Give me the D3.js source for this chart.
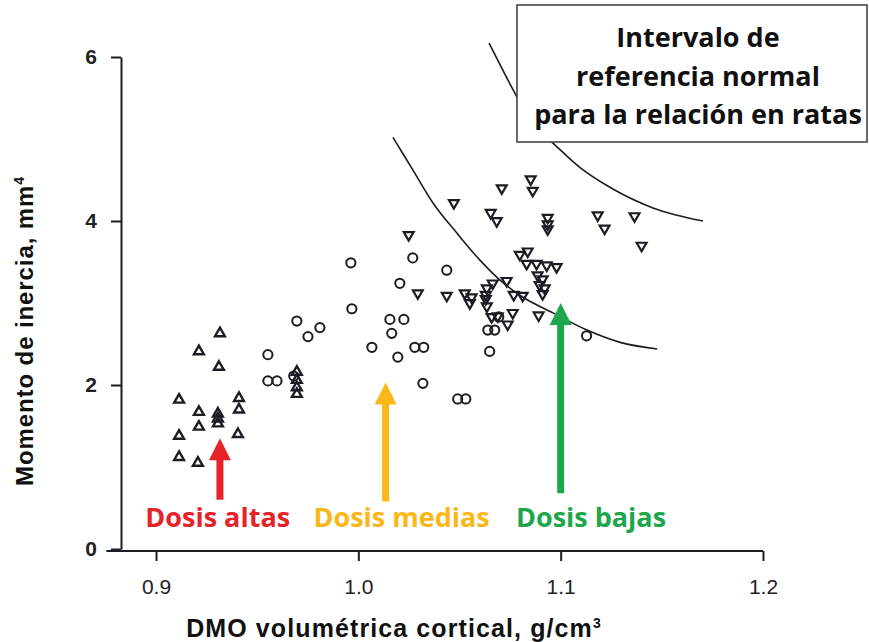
<!DOCTYPE html>
<html><head><meta charset="utf-8">
<script src="https://cdn.jsdelivr.net/npm/d3@7"></script>
<style>html,body{margin:0;padding:0;background:#fff;}svg{display:block;}</style>
</head><body>
<script>
// ---- data ----
const xTicks = [0.9, 1.0, 1.1, 1.2];
const xTickLabels = ["0.9", "1.0", "1.1", "1.2"];
const yTicks = [0, 2, 4, 6];
const yTickLabels = ["0", "2", "4", "6"];

// Dosis altas (triangles up)
const altas = [
  [0.9316,2.63],[0.9212,2.41],[0.9311,2.22],[0.9114,1.82],[0.9410,1.84],
  [0.9212,1.67],[0.9410,1.70],[0.9306,1.65],[0.9306,1.59],[0.9306,1.53],
  [0.9212,1.49],[0.9114,1.38],[0.9405,1.40],[0.9114,1.12],[0.9207,1.05],
  [0.9696,2.16],[0.9696,2.06],[0.9696,1.97],[0.9696,1.89]
];
// Dosis medias (circles)
const medias = [
  [0.9963,3.49],[1.0269,3.55],[1.0437,3.40],[1.0205,3.24],[0.9968,2.93],
  [0.9696,2.78],[0.9810,2.70],[0.9751,2.59],[1.0156,2.80],[1.0225,2.80],
  [1.0165,2.63],[1.0067,2.46],[1.0279,2.46],[1.0323,2.46],[1.0195,2.34],
  [1.0319,2.02],[0.9553,2.37],[0.9553,2.05],[0.9598,2.05],[0.9681,2.11],
  [1.0491,1.83],[1.0531,1.83],[1.0640,2.67],[1.0674,2.67],[1.0694,2.83],
  [1.0649,2.41],[1.1128,2.60]
];
// Dosis bajas (triangles down)
const bajas = [
  [1.0249,3.83],[1.0472,4.22],[1.0709,4.40],[1.0852,4.51],[1.0862,4.37],
  [1.0654,4.10],[1.0684,4.00],[1.0936,4.04],[1.0936,3.96],[1.0936,3.90],
  [1.1183,4.07],[1.1217,3.91],[1.1365,4.06],[1.1400,3.70],[1.0798,3.59],
  [1.0837,3.63],[1.0832,3.48],[1.0881,3.48],[1.0931,3.46],[1.0980,3.44],
  [1.0886,3.34],[1.0911,3.29],[1.0896,3.22],[1.0921,3.18],[1.0911,3.11],
  [1.0733,3.27],[1.0664,3.24],[1.0635,3.18],[1.0630,3.10],[1.0630,3.05],
  [1.0768,3.10],[1.0812,3.09],[1.0294,3.12],[1.0437,3.09],[1.0526,3.12],
  [1.0560,3.07],[1.0551,3.00],[1.0635,2.96],[1.0659,2.83],[1.0689,2.84],
  [1.0763,2.88],[1.0738,2.74],[1.0891,2.85]
];
// Reference interval curves
const curveLower = [
  [1.0171,5.02],[1.0270,4.62],[1.0369,4.22],[1.0488,3.85],[1.0602,3.52],
  [1.0700,3.28],[1.0814,3.07],[1.0962,2.88],[1.1130,2.67],[1.1294,2.52],[1.1477,2.44]
];
const curveUpper = [
  [1.0646,6.17],[1.0765,5.60],[1.0864,5.17],[1.0962,4.95],[1.1096,4.65],
  [1.1258,4.39],[1.1456,4.16],[1.1704,4.00]
];
// Annotations
const boxLines = ["Intervalo de", "referencia normal", "para la relación en ratas"];
const doseLabels = ["Dosis altas", "Dosis medias", "Dosis bajas"];
const doseLabelX = [0.9305, 1.0214, 1.1150];
const arrowX = [0.9316, 1.0135, 1.1000];
const arrowTipY = [1.35, 2.03, 3.00];
const arrowBaseY = [0.60, 0.58, 0.68];
const doseColors = ["#e52329", "#fbb718", "#1ea64b"];

// ---- drawing ----
const W = 869, H = 642;
const svg = d3.select("body").append("svg").attr("width", W).attr("height", H);
const x = d3.scaleLinear().domain([0.9, 1.2]).range([156, 763]);
const y = d3.scaleLinear().domain([0, 6]).range([549, 57]);
const ink = "#1c1c24";

// Y axis
const yAxis = d3.axisLeft(y).tickValues(yTicks).tickFormat((d,i)=>yTickLabels[i])
  .tickSize(10).tickSizeOuter(0).tickPadding(14);
const gy = svg.append("g").attr("transform", "translate(121,0)").call(yAxis);
gy.select(".domain").attr("stroke", ink).attr("stroke-width", 2);
gy.selectAll(".tick line").attr("stroke", ink).attr("stroke-width", 2);
gy.selectAll(".tick text").attr("fill", "#222").attr("font-family", "Liberation Sans, Arial, sans-serif")
  .attr("font-size", 21).attr("font-weight", "bold");

// X axis
const xAxis = d3.axisBottom(x).tickValues(xTicks).tickFormat((d,i)=>xTickLabels[i])
  .tickSize(10).tickSizeOuter(0).tickPadding(18);
const gx = svg.append("g").attr("transform", "translate(0,551)").call(xAxis);
gx.select(".domain").remove();
gx.append("line").attr("x1", x(0.8755)).attr("x2", x(1.2)).attr("y1", 0).attr("y2", 0)
  .attr("stroke", ink).attr("stroke-width", 2);
gx.selectAll(".tick line").attr("stroke", ink).attr("stroke-width", 2);
gx.selectAll(".tick text").attr("fill", "#222").attr("font-family", "Liberation Sans, Arial, sans-serif")
  .attr("font-size", 21);

// Axis titles
svg.append("text").attr("x", 394).attr("y", 637).attr("text-anchor", "middle")
  .attr("font-family", "Liberation Sans, Arial, sans-serif").attr("font-weight", "bold")
  .attr("font-size", 25).attr("letter-spacing", 1.1).attr("fill", "#111")
  .html('DMO volumétrica cortical, g/cm<tspan dy="-9" font-size="14">3</tspan>');
svg.append("text").attr("transform", "translate(33,331) rotate(-90)").attr("text-anchor", "middle")
  .attr("font-family", "Liberation Sans, Arial, sans-serif").attr("font-weight", "bold")
  .attr("font-size", 24).attr("letter-spacing", 0.9).attr("fill", "#111")
  .html('Momento de inercia, mm<tspan dy="-9" font-size="14">4</tspan>');

// Curves
const line = d3.line().x(d=>x(d[0])).y(d=>y(d[1])).curve(d3.curveMonotoneX);
[curveLower, curveUpper].forEach(c => {
  svg.append("path").attr("d", line(c)).attr("fill", "none").attr("stroke", ink).attr("stroke-width", 1.6);
});

// Points
const tri = d3.symbol().type(d3.symbolTriangle).size(42);
svg.append("g").selectAll("path").data(altas).join("path")
  .attr("d", tri).attr("transform", d=>`translate(${x(d[0])},${y(d[1])})`)
  .attr("fill", "none").attr("stroke", ink).attr("stroke-width", 2.4);
svg.append("g").selectAll("path").data(bajas).join("path")
  .attr("d", tri).attr("transform", d=>`translate(${x(d[0])},${y(d[1])}) rotate(180)`)
  .attr("fill", "none").attr("stroke", ink).attr("stroke-width", 2.2);
svg.append("g").selectAll("circle").data(medias).join("circle")
  .attr("cx", d=>x(d[0])).attr("cy", d=>y(d[1])).attr("r", 4.6)
  .attr("fill", "none").attr("stroke", ink).attr("stroke-width", 2);

// Reference box
svg.append("rect").attr("x", 517).attr("y", 5).attr("width", 350).attr("height", 137)
  .attr("fill", "#fff").attr("stroke", "#444").attr("stroke-width", 1.6);
svg.append("g").selectAll("text").data(boxLines).join("text")
  .attr("x", 698).attr("y", (d,i)=>47 + i*38.5).attr("text-anchor", "middle")
  .attr("font-family", "Open Sans, sans-serif").attr("font-weight", "bold")
  .attr("font-size", 27).attr("fill", "#111").text(d=>d);

// Arrows
doseLabels.forEach((lab, i) => {
  const cx = x(arrowX[i]), ty = y(arrowTipY[i]), by = y(arrowBaseY[i]);
  const hw = 11, hh = 22, sw = 3.5;
  const p = d3.path();
  p.moveTo(cx, ty); p.lineTo(cx + hw, ty + hh); p.lineTo(cx + sw, ty + hh);
  p.lineTo(cx + sw, by); p.lineTo(cx - sw, by); p.lineTo(cx - sw, ty + hh);
  p.lineTo(cx - hw, ty + hh); p.closePath();
  svg.append("path").attr("d", p.toString()).attr("fill", doseColors[i]);
  svg.append("text").attr("x", x(doseLabelX[i])).attr("y", 527).attr("text-anchor", "middle")
    .attr("font-family", "Open Sans, sans-serif").attr("font-weight", "bold")
    .attr("font-size", 27).attr("fill", doseColors[i]).text(lab);
});
</script>
</body></html>
